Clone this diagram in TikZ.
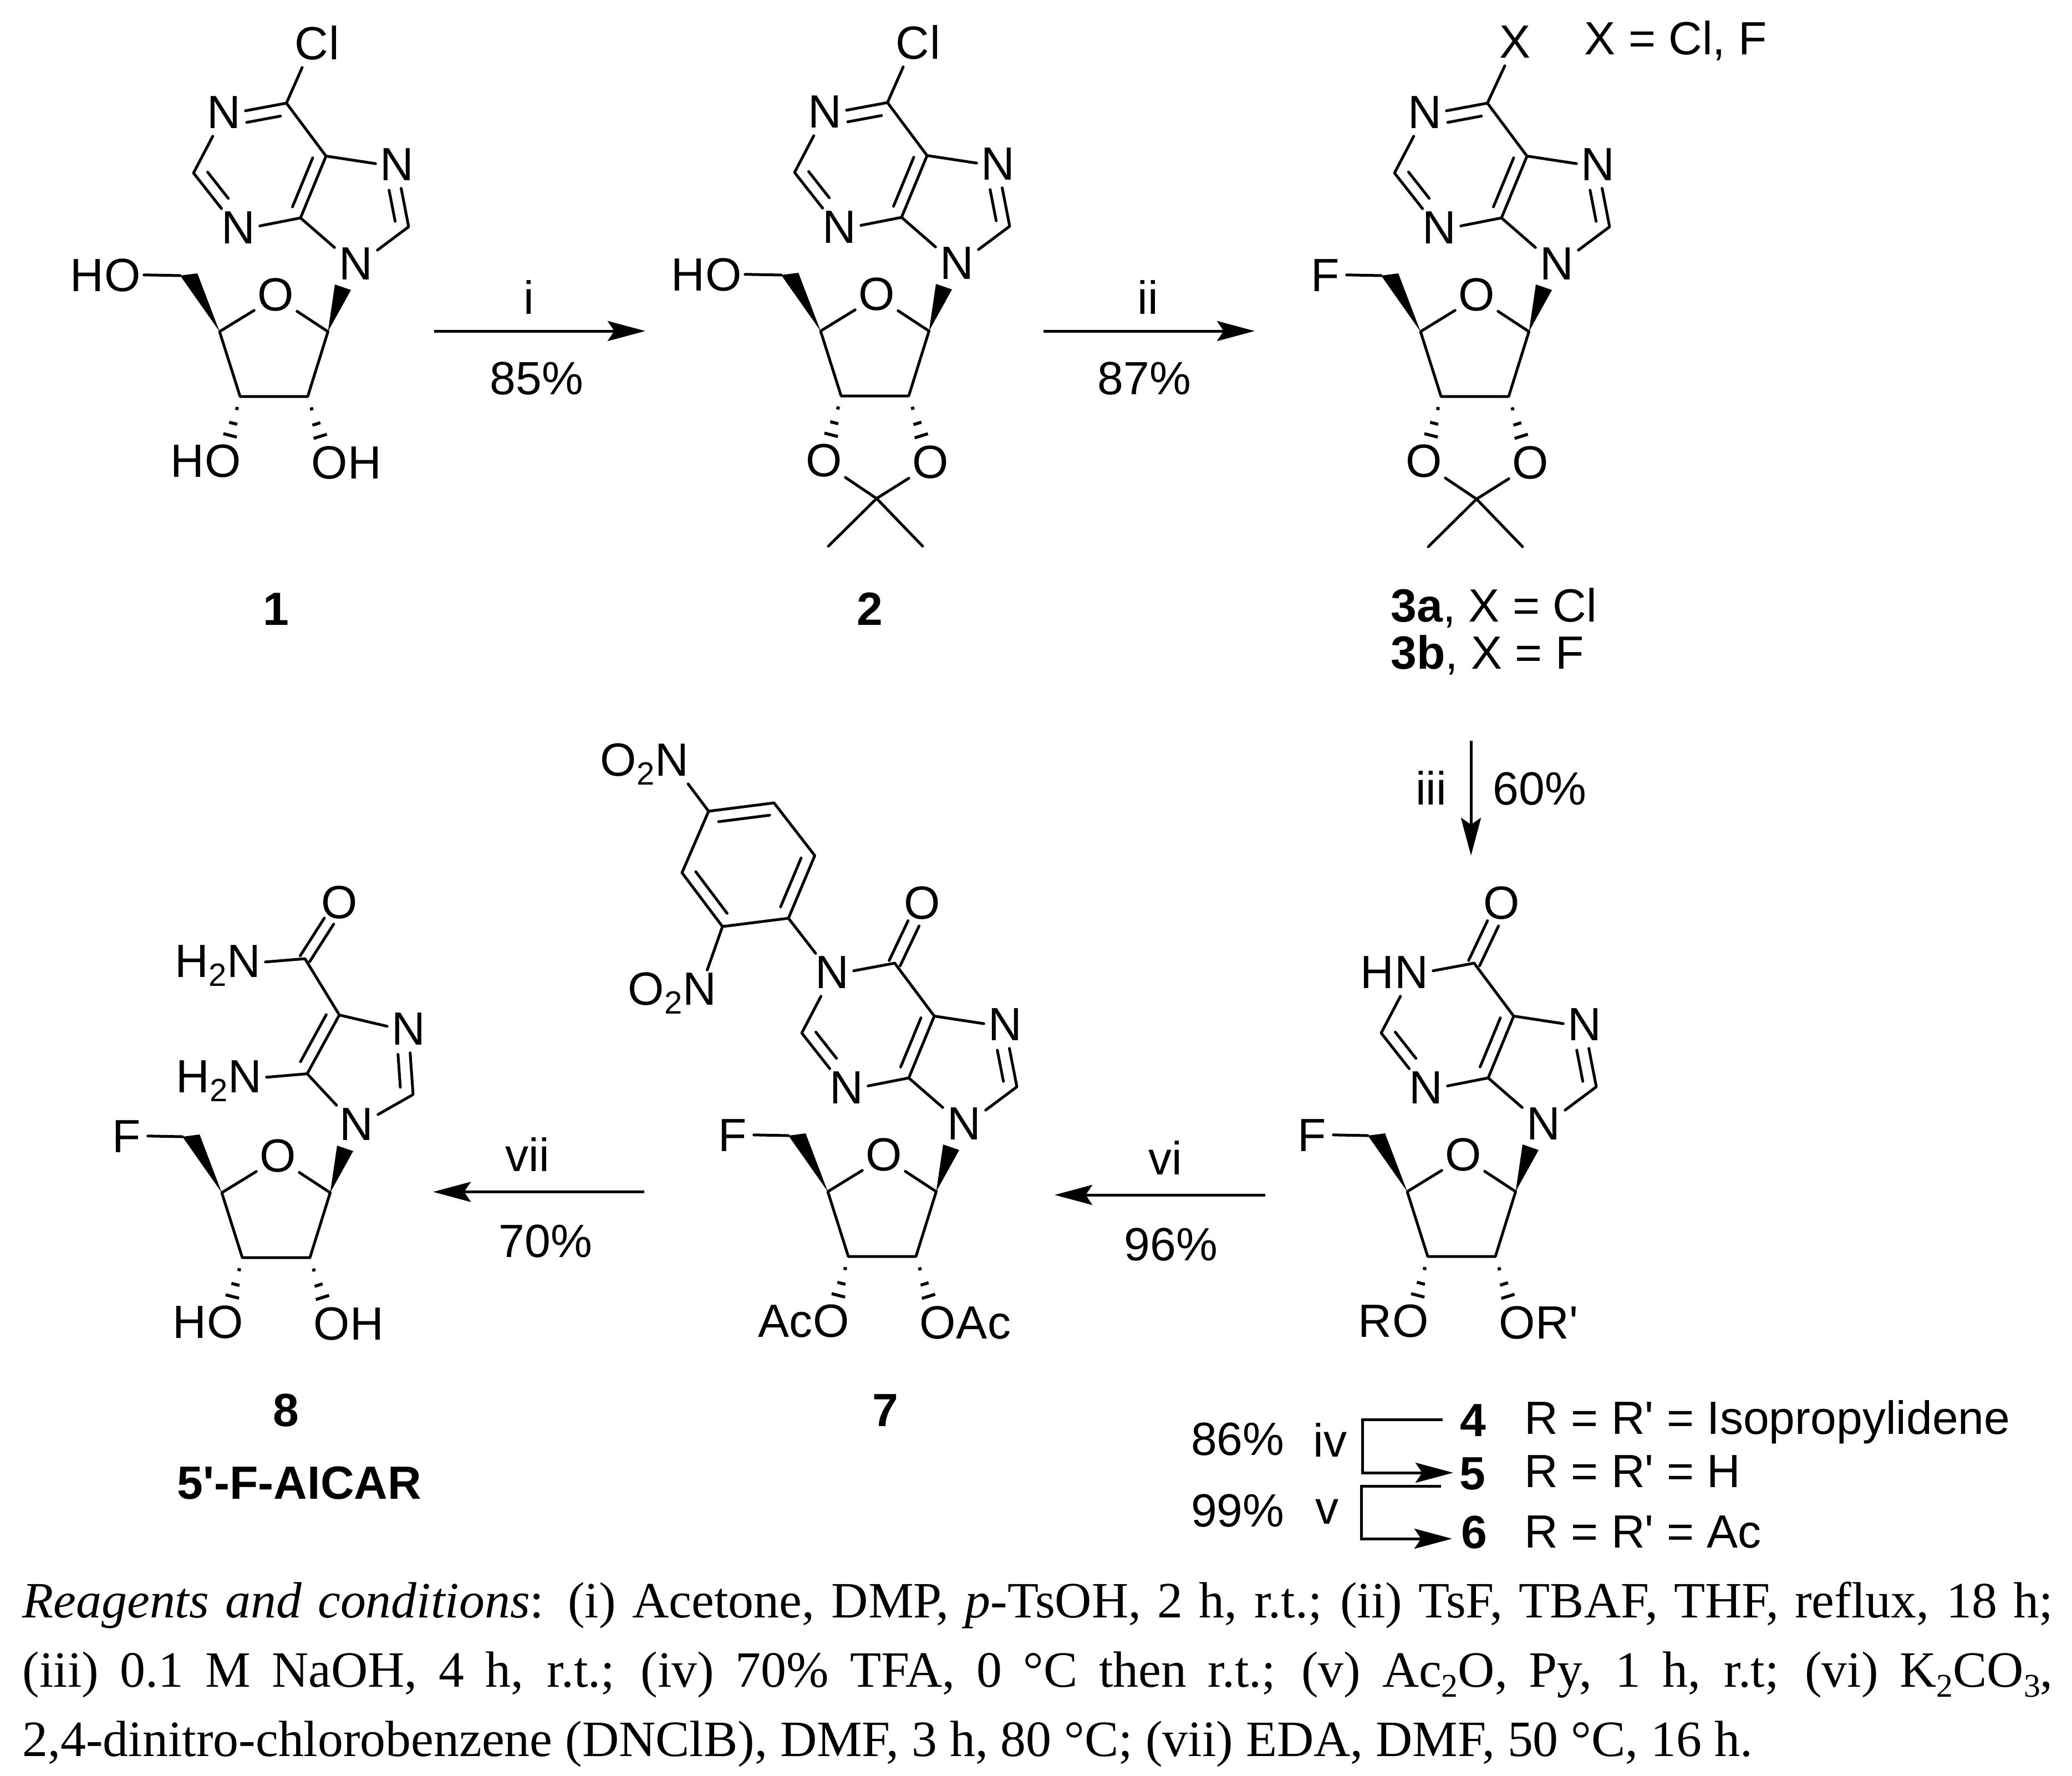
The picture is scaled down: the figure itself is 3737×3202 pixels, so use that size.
\documentclass[tikz,border=0pt]{standalone}
\usepackage{fontspec}
\usetikzlibrary{calc,arrows.meta}
\setmainfont{Liberation Sans}
\newfontfamily\capfont{Liberation Serif}
\newcommand\lblfont{\fontsize{23.9}{28}\selectfont}
\newcommand\subt[1]{\raisebox{-.2em}{\fontsize{16.5}{18}\selectfont #1}}
\newcommand\csub[1]{\raisebox{-.2em}{\fontsize{17}{18}\selectfont #1}}
\tikzset{
  bond/.style={line width=.05cm,line cap=round,line join=round,black},
  hashline/.style={line width=.055cm,black},
  atom/.style={inner sep=0pt,minimum width=.76cm,minimum height=.76cm,text height=.6cm,text depth=.12cm,font=\lblfont},
  atomz/.style={atom,text depth=0cm},
  txt/.style={inner sep=0pt,font=\lblfont},
  numlab/.style={inner sep=0pt,font=\lblfont\bfseries},
  caption/.style={inner sep=0pt,anchor=base west,font=\capfont\fontsize{26.1}{28}\selectfont},
  rarrow/.style={line width=.05cm,black,-{Stealth[length=.68cm,width=.36cm,inset=.12cm]}}
}
\newcommand\innerb[5]{\draw[bond] ($($(#1)!#3!(#2)$)!#5cm!-90:(#2)$) -- ($($(#1)!#4!(#2)$)!#5cm!-90:(#2)$);}
\newcommand\hashb[2]{\foreach \hp/\hw in {.18/.03,.40/.075,.58/.125}{\draw[hashline] ($($(#1)!\hp!(#2)$)!\hw cm!90:(#2)$) -- ($($(#1)!\hp!(#2)$)!\hw cm!-90:(#2)$);}}
\newcommand\ringcore{
  \coordinate (C6) at (516.6,186);
  \node[atom] (N1) at (404,207) {N};
  \coordinate (C2) at (349,312);
  \node[atom] (N3) at (430,415) {N};
  \coordinate (C4) at (542,393);
  \coordinate (C5) at (588,281.5);
  \node[atom] (N7) at (716,301) {N};
  \coordinate (C8) at (737,409);
  \node[atom] (N9) at (642,480) {N};
  \draw[bond] (N1) -- (C2) -- (N3);
  \draw[bond] (N3) -- (C4) -- (C5) -- (C6);
  \draw[bond] (C5) -- (N7);
  \draw[bond] (N7) -- (C8) -- (N9);
  \draw[bond] (N9) -- (C4);
  \innerb{C2}{N3}{.11}{.57}{-.21}
  \innerb{C4}{C5}{.106}{.90}{-.21}
  \innerb{C8}{N7}{.13}{.65}{-.22}
}
\newcommand\sugar{
  \coordinate (C1p) at (591.5,598);
  \coordinate (C4p) at (396,598);
  \coordinate (C3p) at (433,715);
  \coordinate (C2p) at (555,715);
  \coordinate (C5a) at (325,497);
  \coordinate (C5b) at (356,493);
  \coordinate (Wa) at (604,513);
  \coordinate (Wb) at (633,523);
  \node[atom] (O4) at (497,536) {O};
  \node[atom] (O3) at (402,836) {O};
  \node[atom] (O2) at (594,839) {O};
  \draw[bond] (C1p) -- (O4) -- (C4p) -- (C3p) -- (C2p) -- (C1p);
  \fill[black] (C4p) -- (C5a) -- (C5b) -- cycle;
  \fill[black] (C1p) -- (Wa) -- (Wb) -- cycle;
  \hashb{C3p}{O3}
  \hashb{C2p}{O2}
}
\newcommand\clbonds{
  \draw[bond] (N1) -- (C6);
  \innerb{N1}{C6}{.33}{.87}{.21}
}
\newcommand\carbonyl{
  \draw[bond] (N1) -- (C6);
  \node[atom] (O6) at (566,82) {O};
  \innerb{C6}{O6}{0}{.69}{.11}
  \innerb{C6}{O6}{0}{.69}{-.11}
}
\newcommand\acetonide{
  \coordinate (CMe) at (497,900);
  \coordinate (Me1) at (410,986);
  \coordinate (Me2) at (580,986);
  \draw[bond] (O3) -- (CMe) -- (O2);
  \draw[bond] (Me1) -- (CMe) -- (Me2);
}
\newcommand\chloro{
  \node[atom] (CC) at (562,83) {C};
  \node[txt,anchor=base west,xshift=-.077cm] (CCl) at (CC.base east) {l};
  \draw[bond] (C6) -- (CC);
}
\newcommand\hydroxymethyl{
  \node[atomz] (O5) at (221,495) {O};
  \node[txt,anchor=base east,xshift=.055cm] (H5) at (O5.base west) {H};
  \draw[bond] (O5) -- (C5a);
}
\newcommand\fluoromethyl{
  \node[atomz] (F5) at (224,495) {F};
  \draw[bond] (F5) -- (C5a);
}
\begin{document}
\begin{tikzpicture}[x=.01cm,y=-.01cm]
\useasboundingbox (0,0) rectangle (3737,3202);
\fill[white] (0,0) rectangle (3737,3202);

% ---- compound 1
\begin{scope}[name prefix=m1-]
  \ringcore \sugar \clbonds \chloro \hydroxymethyl
  \node[txt,anchor=base east,xshift=.055cm] (H3) at (O3.base west) {H};
  \node[txt,anchor=base west,xshift=-.055cm] (H2) at (O2.base east) {H};
\end{scope}
\node[numlab,anchor=base] (n1) at (498,1127) {1};

% ---- compound 2
\begin{scope}[shift={(1084,-1)},name prefix=m2-]
  \ringcore \sugar \clbonds \chloro \hydroxymethyl \acetonide
\end{scope}
\node[numlab,anchor=base] (n2) at (1569,1127) {2};

% ---- compound 3
\begin{scope}[shift={(2166,0)},name prefix=m3-]
  \ringcore \sugar \clbonds \fluoromethyl \acetonide
  \node[atom] (XX) at (566,80) {X};
  \draw[bond] (C6) -- (XX);
\end{scope}
\node[txt,anchor=base west] (xdef) at (2857,98) {X = Cl, F};
\node[txt,anchor=base west] (n3a) at (2508,1121) {\textbf{3a}, X = Cl};
\node[txt,anchor=base west] (n3b) at (2508,1206) {\textbf{3b}, X = F};

% ---- compound 4-6
\begin{scope}[shift={(2142,1551)},name prefix=m4-]
  \ringcore \sugar \carbonyl \fluoromethyl
  \node[txt,anchor=base east,xshift=.077cm] (H1) at (N1.base west) {H};
  \node[txt,anchor=base east,xshift=.055cm] (R3) at (O3.base west) {R};
  \node[txt,anchor=base west,xshift=-.055cm] (R2) at (O2.base east) {R\textquotesingle};
\end{scope}

% ---- compound 7
\begin{scope}[shift={(1097,1551)},name prefix=m7-]
  \ringcore \sugar \carbonyl \fluoromethyl
  \node[txt,anchor=base east,xshift=.055cm] (Ac3) at (O3.base west) {Ac};
  \node[txt,anchor=base west,xshift=-.055cm] (Ac2) at (O2.base east) {Ac};
\end{scope}
\coordinate (Da) at (1278,1463);
\coordinate (Db) at (1396,1448);
\coordinate (Dc) at (1469.5,1543);
\coordinate (Dd) at (1422,1656);
\coordinate (De) at (1303,1671);
\coordinate (Df) at (1230,1574);
\draw[bond] (Da) -- (Db) -- (Dc) -- (Dd) -- (De) -- (Df) -- cycle;
\innerb{Da}{Db}{.13}{.91}{.21}
\innerb{Dc}{Dd}{.11}{.89}{.21}
\innerb{De}{Df}{.115}{.89}{.21}
\draw[bond] (Dd) -- (m7-N1);
\node[atom] (Nt) at (1212,1375) {N};
\node[txt,anchor=base east,xshift=.077cm] (Ot) at (Nt.base west) {O\subt{2}};
\draw[bond] (Da) -- (Nt);
\node[atom] (Nl) at (1262,1788) {N};
\node[txt,anchor=base east,xshift=.077cm] (Ol) at (Nl.base west) {O\subt{2}};
\draw[bond] (De) -- (Nl);
\node[numlab,anchor=base] (n7) at (1597,2572) {7};

% ---- compound 8
\begin{scope}[shift={(4,1553)},name prefix=m8-]
  \sugar \fluoromethyl
  \node[txt,anchor=base east,xshift=.055cm] (H3) at (O3.base west) {H};
  \node[txt,anchor=base west,xshift=-.055cm] (H2) at (O2.base east) {H};
\end{scope}
\node[atom] (aO) at (612,1632) {O};
\coordinate (aC) at (550,1729);
\node[atom] (aN) at (440,1738) {N};
\node[txt,anchor=base east,xshift=.077cm] (aH) at (aN.base west) {H\subt{2}};
\coordinate (aC5) at (612,1830.5);
\node[atom] (aN3) at (737,1860) {N};
\coordinate (aC2) at (745,1974);
\node[atom] (aN1) at (643,2032) {N};
\coordinate (aC4) at (554,1936.5);
\node[atom] (bN) at (442,1946) {N};
\node[txt,anchor=base east,xshift=.077cm] (bH) at (bN.base west) {H\subt{2}};
\draw[bond] (aN) -- (aC) -- (aC5);
\draw[bond] (aC5) -- (aN3);
\draw[bond] (aN3) -- (aC2) -- (aN1);
\draw[bond] (aN1) -- (aC4) -- (aC5);
\draw[bond] (bN) -- (aC4);
\innerb{aC}{aO}{0}{.7}{.10}
\innerb{aC}{aO}{0}{.7}{-.10}
\innerb{aC4}{aC5}{.11}{.91}{-.21}
\innerb{aC2}{aN3}{.13}{.65}{-.22}
\node[numlab,anchor=base] (n8) at (516,2572) {8};
\node[numlab,anchor=base] (n8b) at (540,2703) {5\textquotesingle-F-AICAR};

% ---- reaction arrows
\coordinate (a1s) at (783,597); \coordinate (a1e) at (1164,597);
\draw[rarrow] (a1s) -- (a1e);
\node[txt,anchor=base] (l1a) at (954,566) {i};
\node[txt,anchor=base] (l1b) at (968,711) {85\%};
\coordinate (a2s) at (1882,597); \coordinate (a2e) at (2263,597);
\draw[rarrow] (a2s) -- (a2e);
\node[txt,anchor=base] (l2a) at (2070,566) {ii};
\node[txt,anchor=base] (l2b) at (2064,711) {87\%};
\coordinate (a3s) at (2653,1336); \coordinate (a3e) at (2653,1543);
\draw[rarrow] (a3s) -- (a3e);
\node[txt,anchor=base] (l3a) at (2581,1451) {iii};
\node[txt,anchor=base] (l3b) at (2777,1451) {60\%};
\coordinate (a6s) at (2282,2155); \coordinate (a6e) at (1902,2155);
\draw[rarrow] (a6s) -- (a6e);
\node[txt,anchor=base] (l6a) at (2102,2118) {vi};
\node[txt,anchor=base] (l6b) at (2112,2273) {96\%};
\coordinate (a7s) at (1162,2149.5); \coordinate (a7e) at (781,2149.5);
\draw[rarrow] (a7s) -- (a7e);
\node[txt,anchor=base] (l7a) at (951,2112) {vii};
\node[txt,anchor=base] (l7b) at (984,2267) {70\%};

% ---- R table
\node[numlab,anchor=base] (n4) at (2657,2590) {4};
\node[numlab,anchor=base] (n5) at (2656,2686) {5};
\node[numlab,anchor=base] (n6) at (2659,2792) {6};
\node[txt,anchor=base west] (r4) at (2749,2586) {R = R\textquotesingle{} = Isopropylidene};
\node[txt,anchor=base west] (r5) at (2749,2682) {R = R\textquotesingle{} = H};
\node[txt,anchor=base west] (r6) at (2749,2791) {R = R\textquotesingle{} = Ac};
\node[txt,anchor=base east] (y5) at (2317,2624) {86\%};
\node[txt,anchor=base east] (y6) at (2317,2753) {99\%};
\node[txt,anchor=base] (l4) at (2399,2627) {iv};
\node[txt,anchor=base] (l5) at (2393,2748) {v};
\coordinate (b4s) at (2602,2560); \coordinate (b4c) at (2457,2560);
\coordinate (b4d) at (2457,2656); \coordinate (b4e) at (2621,2656);
\draw[rarrow] (b4s) -- (b4c) -- (b4d) -- (b4e);
\coordinate (b5s) at (2599,2680); \coordinate (b5c) at (2455,2680);
\coordinate (b5d) at (2455,2775); \coordinate (b5e) at (2619,2775);
\draw[rarrow] (b5s) -- (b5c) -- (b5d) -- (b5e);

% ---- caption
\node[caption] (cap1) at (40,2917) {\makebox[36.6cm][s]{\textit{Reagents and conditions}: (i) Acetone, DMP, \textit{p}-TsOH, 2 h, r.t.; (ii) TsF, TBAF, THF, reflux, 18 h;}};
\node[caption] (cap2) at (40,3042) {\makebox[36.6cm][s]{(iii) 0.1 M NaOH, 4 h, r.t.; (iv) 70\% TFA, 0 °C then r.t.; (v) Ac\csub{2}O, Py, 1 h, r.t; (vi) K\csub{2}CO\csub{3},}};
\node[caption] (cap3) at (40,3167) {2,4-dinitro-chlorobenzene (DNClB), DMF, 3 h, 80 °C; (vii) EDA, DMF, 50 °C, 16 h.};
\end{tikzpicture}
\end{document}
